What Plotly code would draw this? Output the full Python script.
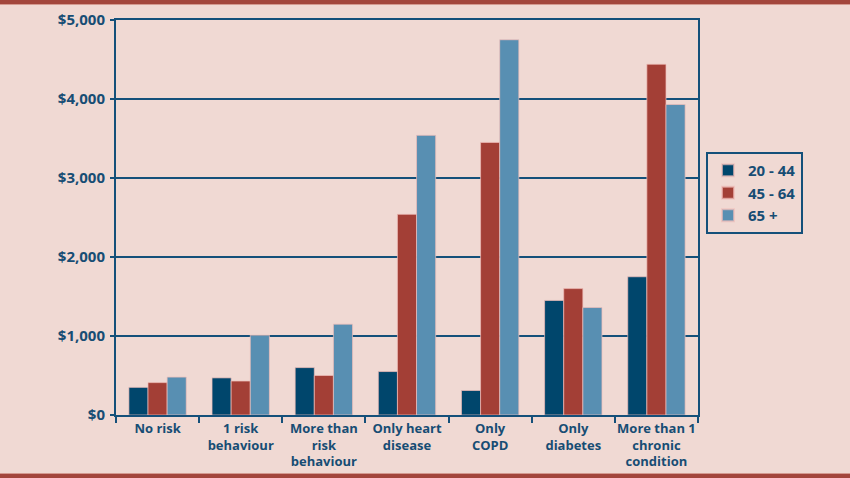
import plotly.graph_objects as go

categories = [
    "No risk",
    "1 risk<br>behaviour",
    "More than<br>risk<br>behaviour",
    "Only heart<br>disease",
    "Only<br>COPD",
    "Only<br>diabetes",
    "More than 1<br>chronic<br>condition",
]
age_20_44 = [350, 470, 600, 550, 310, 1450, 1750]
age_45_64 = [410, 430, 500, 2540, 3450, 1600, 4440]
age_65_plus = [480, 1010, 1150, 3540, 4750, 1360, 3930]
series_names = ["20 - 44", "45 - 64", "65 +"]
y_tick_vals = [0, 1000, 2000, 3000, 4000, 5000]
y_tick_text = ["$0", "$1,000", "$2,000", "$3,000", "$4,000", "$5,000"]

colors = ["#00466c", "#a33f36", "#588fb2"]
navy = "#14507a"
text_col = "#174d74"
bg = "#f0d9d3"
font_family = "Open Sans, Roboto, DejaVu Sans, sans-serif"

fig = go.Figure()
for name, vals, c in zip(series_names, [age_20_44, age_45_64, age_65_plus], colors):
    fig.add_trace(go.Bar(
        x=categories, y=vals, name=name,
        marker=dict(color=c, line=dict(color="rgba(240,190,185,0.7)", width=1)),
    ))

W, H = 850, 478
ml, mr, mt, mb = 116, 152, 20, 63
pw, ph = W - ml - mr, H - mt - mb

fig.update_layout(
    width=W, height=H,
    margin=dict(l=ml, r=mr, t=mt, b=mb, pad=0),
    paper_bgcolor=bg, plot_bgcolor=bg,
    barmode="group", bargap=0.31, bargroupgap=0,
    font=dict(family=font_family, color=text_col, size=13, weight="bold"),
    legend=dict(
        x=(706 - ml) / pw, y=(H - mb - 152) / ph, xanchor="left", yanchor="top",
        bgcolor="rgba(0,0,0,0)", bordercolor=navy, borderwidth=2,
        font=dict(size=15, color=text_col, family=font_family, weight="bold"),
        itemsizing="constant", itemwidth=30, tracegroupgap=0,
    ),
    showlegend=True,
)
fig.update_xaxes(
    showline=True, linecolor=navy, linewidth=2, mirror=True,
    ticks="outside", tickson="boundaries", ticklen=6, tickwidth=2, tickcolor=navy,
    tickfont=dict(size=13, color=text_col, family=font_family, weight="bold"),
    showgrid=False, tickangle=0, automargin=False,
)
fig.update_yaxes(
    range=[0, 5000], tickvals=y_tick_vals, ticktext=y_tick_text,
    showline=True, linecolor=navy, linewidth=2, mirror=True,
    ticks="outside", ticklen=4, tickwidth=2, tickcolor=navy,
    showgrid=True, gridcolor=navy, gridwidth=2, zeroline=False,
    tickfont=dict(size=15, color=text_col, family=font_family, weight="bold"),
    ticklabelstandoff=2, automargin=False,
)

# decorative top and bottom bands
def py(pixel_y):
    return (H - mb - pixel_y) / ph

x0p, x1p = -ml / pw, 1 + mr / pw
for y_top, y_bot in [(0, 4), (474, 478)]:
    fig.add_shape(type="rect", xref="paper", yref="paper",
                  x0=x0p, x1=x1p, y0=py(y_bot + 1), y1=py(y_top - 1),
                  fillcolor="#a3463c", line=dict(width=0), layer="above")
fig.add_shape(type="line", xref="paper", yref="paper", x0=x0p, x1=x1p,
              y0=py(4.5), y1=py(4.5), line=dict(color="#d49a90", width=1))
fig.add_shape(type="line", xref="paper", yref="paper", x0=x0p, x1=x1p,
              y0=py(473.5), y1=py(473.5), line=dict(color="#d49a90", width=1))

fig.write_html("out.html", config={"displayModeBar": False},
               post_script="document.body.style.margin='0';")
